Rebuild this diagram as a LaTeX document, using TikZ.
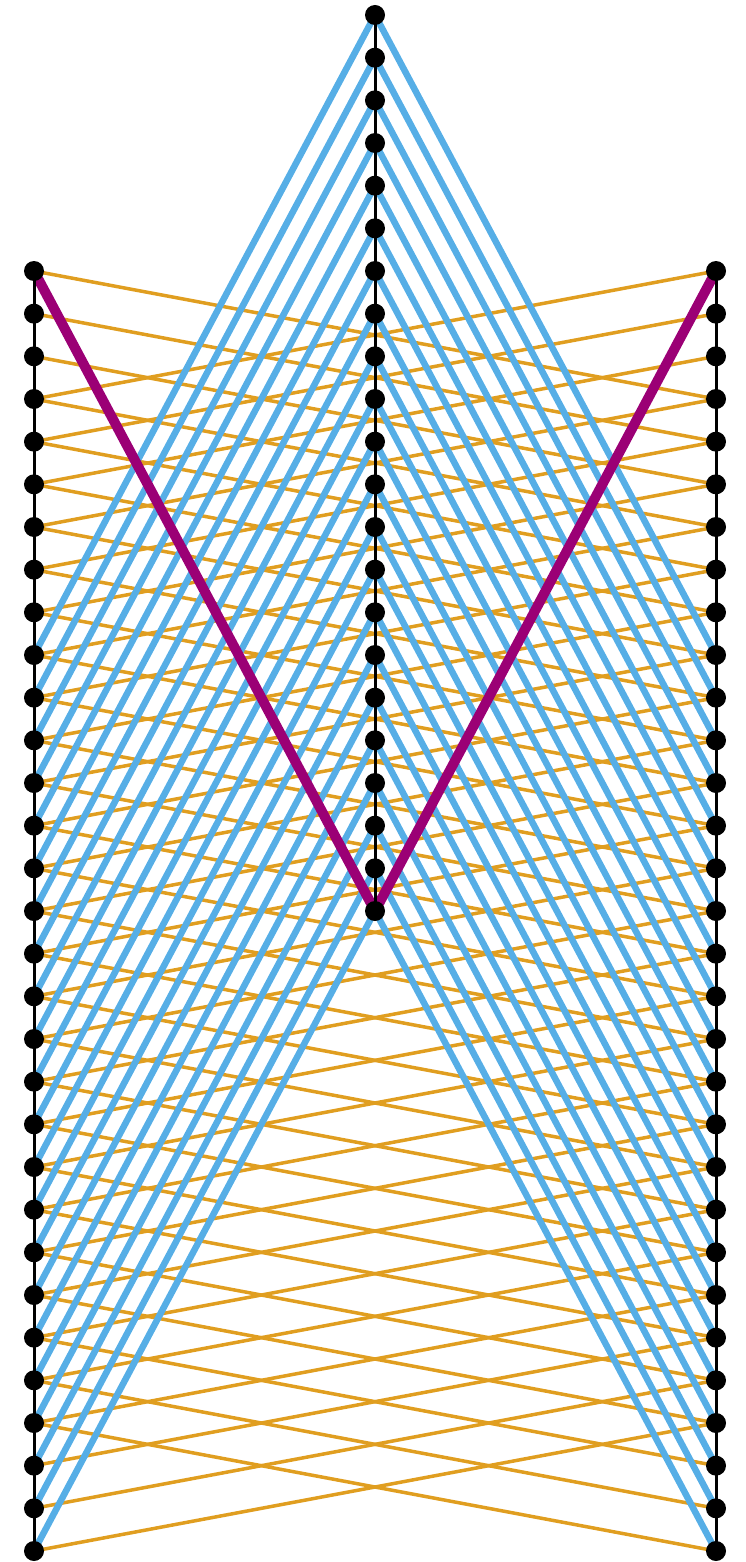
\documentclass[tikz,border=0pt]{standalone}
\pgfdeclarelayer{lorange}
\pgfdeclarelayer{lblue}
\pgfdeclarelayer{lpurple}
\pgfdeclarelayer{lblack}
\pgfsetlayers{lorange,lblue,lpurple,lblack,main}
\definecolor{cblue}{RGB}{86,174,230}
\definecolor{corange}{RGB}{224,158,32}
\definecolor{cpurple}{RGB}{155,0,117}
\begin{document}
\begin{tikzpicture}[x=1pt,y=-1pt,
  dot/.style={circle,fill=black,inner sep=0pt,minimum size=20pt},
  oline/.style={draw=corange,line width=3.5pt},
  bline/.style={draw=cblue,line width=6.5pt},
  pline/.style={draw=cpurple,line width=10pt,line join=round},
  kline/.style={draw=black,line width=3pt}]
\useasboundingbox (0,0) rectangle (746,1562);
\foreach \j in {0,...,30} {
  \node[dot] (L\j) at (34,{271+\j*42.6667}) {};
  \node[dot] (R\j) at (716,{271+\j*42.6667}) {};
}
\foreach \k in {0,...,21} {
  \node[dot] (M\k) at (375,{15+\k*42.6667}) {};
}
\begin{pgfonlayer}{lorange}
\foreach \j [evaluate=\j as \a using {int(\j+3)}] in {0,...,27} {
  \draw[oline] (L\j.center) -- (R\a.center);
  \draw[oline] (R\j.center) -- (L\a.center);
}
\end{pgfonlayer}
\begin{pgfonlayer}{lblue}
\foreach \k [evaluate=\k as \a using {int(\k+9)}] in {0,...,21} {
  \draw[bline] (M\k.center) -- (L\a.center);
  \draw[bline] (M\k.center) -- (R\a.center);
}
\end{pgfonlayer}
\begin{pgfonlayer}{lpurple}
\draw[pline] (L0.center) -- (M21.center) -- (R0.center);
\end{pgfonlayer}
\begin{pgfonlayer}{lblack}
\draw[kline] (L0.center) -- (L30.center);
\draw[kline] (R0.center) -- (R30.center);
\draw[kline] (M0.center) -- (M21.center);
\end{pgfonlayer}
\end{tikzpicture}
\end{document}
